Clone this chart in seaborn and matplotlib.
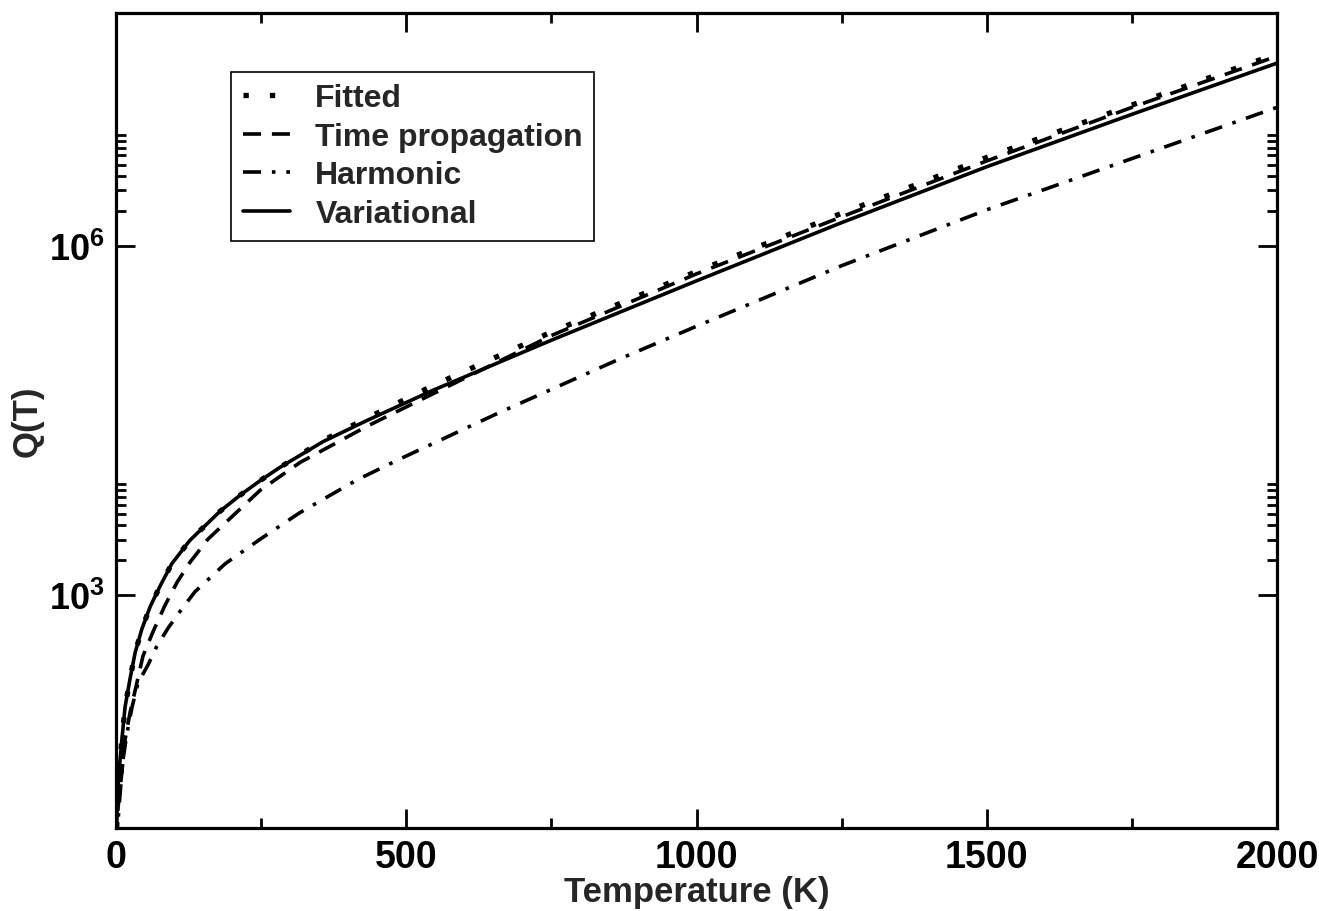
import numpy as np
import pandas as pd
import seaborn as sns
import matplotlib.pyplot as plt
from matplotlib.ticker import FixedLocator, FixedFormatter

# values (T in K, log10 of Q)
t_var = [1, 2, 5, 10, 15.5, 24, 33, 44.5, 58.6, 76, 96, 127, 179, 214, 250, 283, 357, 432, 546,
         750, 1000, 1250, 1500, 1750, 2000]
logq_var = [1.0, 1.18, 1.48, 1.76, 2.04, 2.28, 2.51, 2.71, 2.90, 3.08, 3.27, 3.47, 3.72, 3.86, 3.99,
            4.10, 4.32, 4.50, 4.76, 5.19, 5.70, 6.20, 6.68, 7.13, 7.57]

t_fit = [1, 2, 5, 10, 15.5, 24, 33, 44.5, 58.6, 76, 96, 127, 179, 214, 250, 283, 357, 432, 546,
         750, 1000, 1250, 1500, 1750, 2000]
logq_fit = [1.0, 1.18, 1.48, 1.76, 2.04, 2.28, 2.51, 2.71, 2.90, 3.08, 3.27, 3.47, 3.72, 3.86, 3.99,
            4.10, 4.33, 4.52, 4.80, 5.26, 5.78, 6.28, 6.76, 7.21, 7.65]

t_tp = [1, 3.5, 10, 15.5, 24, 36, 46.5, 64, 84, 105, 127, 158, 248, 317, 432, 489,
        750, 1000, 1250, 1500, 1750, 2000]
logq_tp = [0.9, 1.18, 1.48, 1.76, 1.99, 2.25, 2.48, 2.69, 2.91, 3.11, 3.28, 3.48, 3.90, 4.14, 4.45, 4.59,
           5.23, 5.76, 6.25, 6.73, 7.19, 7.63]

t_harm = [1, 3.5, 7, 12, 19, 27.6, 38, 55, 70, 90, 113, 136, 188, 248, 317, 415, 489, 661, 868,
          1000, 1250, 1500, 1750, 2000]
logq_harm = [0.85, 1.07, 1.30, 1.59, 1.82, 2.04, 2.25, 2.40, 2.56, 2.72, 2.88, 3.03, 3.27, 3.48, 3.71,
             3.99, 4.17, 4.57, 5.03, 5.31, 5.83, 6.31, 6.75, 7.19]

x_ticks = [0, 500, 1000, 1500, 2000]
x_minor = [250, 750, 1250, 1750]
y_ticks = [1e3, 1e6]
y_labels = [r'$\mathbf{10^{3}}$', r'$\mathbf{10^{6}}$']

sns.set_style('ticks')
plt.rcParams['font.family'] = ['Liberation Sans', 'DejaVu Sans']
plt.rcParams['font.weight'] = 'bold'
plt.rcParams['mathtext.fontset'] = 'custom'
plt.rcParams['mathtext.rm'] = 'Liberation Sans:bold'
plt.rcParams['mathtext.bf'] = 'Liberation Sans:bold'

fig = plt.figure(figsize=(13.19, 9.12), dpi=100)
ax = fig.add_axes([0.088, 0.091, 0.8802, 0.8936])

series = [
    ('Fitted', t_fit, logq_fit, dict(linestyle=(0, (1, 4)), linewidth=3.8, dash_capstyle='butt')),
    ('Time propagation', t_tp, logq_tp, dict(linestyle=(0, (5, 3)), linewidth=2.6)),
    ('Harmonic', t_harm, logq_harm, dict(linestyle=(0, (5, 3, 1, 3)), linewidth=2.6)),
    ('Variational', t_var, logq_var, dict(linestyle='-', linewidth=2.6)),
]

for name, t, lq, kw in series:
    df = pd.DataFrame({'T': t, 'Q': np.power(10.0, lq)})
    sns.lineplot(data=df, x='T', y='Q', ax=ax, color='black', label=name, **kw)

ax.set_yscale('log')
ax.set_xlim(0, 2000)
ax.set_ylim(10, 1e8)

ax.xaxis.set_major_locator(FixedLocator(x_ticks))
ax.xaxis.set_minor_locator(FixedLocator(x_minor))
ax.yaxis.set_major_locator(FixedLocator(y_ticks))
ax.yaxis.set_major_formatter(FixedFormatter(y_labels))
y_minor = [k * 10.0 ** e for e in (3, 6) for k in range(2, 10)]
ax.yaxis.set_minor_locator(FixedLocator(y_minor))
ax.yaxis.set_minor_formatter(FixedFormatter([''] * len(y_minor)))

ax.tick_params(which='both', direction='in', top=True, right=True, width=2.0, colors='black')
ax.tick_params(which='major', length=14, labelsize=27, pad=8)
ax.tick_params(axis='y', which='major', labelsize=26)
ax.tick_params(which='minor', length=7)
for lab in ax.get_xticklabels():
    lab.set_fontweight('bold')

for sp in ax.spines.values():
    sp.set_linewidth(2.3)
    sp.set_color('black')

ax.set_xlabel('Temperature (K)', fontsize=25, fontweight='bold', labelpad=0)
ax.set_ylabel('Q(T)', fontsize=25, fontweight='bold', labelpad=4)

leg = ax.legend(loc='upper left', bbox_to_anchor=(0.099, 0.928), borderaxespad=0,
                fontsize=23, frameon=True, fancybox=False, handlelength=1.48,
                handletextpad=0.8, labelspacing=0.27, borderpad=0.36)
leg.get_frame().set_edgecolor('black')
leg.get_frame().set_linewidth(1.2)
leg.get_frame().set_alpha(1)
for txt in leg.get_texts():
    txt.set_fontweight('bold')

fig.savefig('out.png', dpi=100)
